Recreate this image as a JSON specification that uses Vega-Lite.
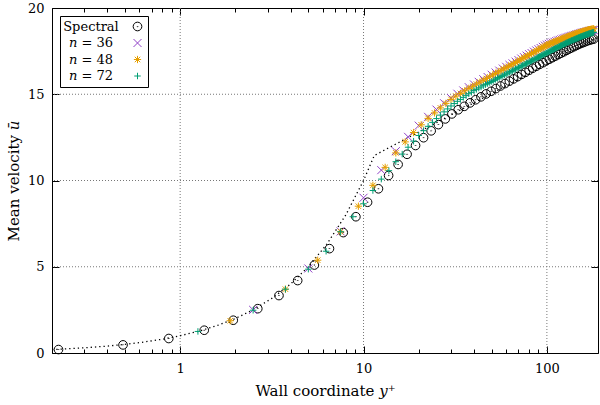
{
 "$schema": "https://vega.github.io/schema/vega-lite/v6.json",
 "width": 546, "height": 345,
 "autosize": {"type": "none"},
 "padding": {"left": 52, "top": 8, "right": 2, "bottom": 52},
 "background": "white",
 "config": {
  "font": "DejaVu Serif",
  "view": {"stroke": "black", "strokeWidth": 1},
  "axis": {"domain": false, "grid": false, "tickColor": "black", "tickWidth": 1, "labelColor": "black", "labelFontSize": 13, "titleFontSize": 15, "titleFontWeight": "normal", "titleColor": "black", "labelFont": "DejaVu Serif", "titleFont": "DejaVu Serif"}
 },
 "datasets": {
  "gx": [{"g":1},{"g":10},{"g":100}],
  "gy": [{"h":5},{"h":10},{"h":15}],
  "law": [{"x":0.2,"u":0.2},{"x":0.25,"u":0.25},{"x":0.3,"u":0.3},{"x":0.4,"u":0.4},{"x":0.5,"u":0.5},{"x":0.6,"u":0.6},{"x":0.8,"u":0.8},{"x":1,"u":1},{"x":1.25,"u":1.25},{"x":1.6,"u":1.6},{"x":2,"u":2},{"x":2.5,"u":2.5},{"x":3.2,"u":3.2},{"x":4,"u":4},{"x":5,"u":5},{"x":6.3,"u":6.3},{"x":8,"u":8},{"x":10,"u":10},{"x":11.45,"u":11.45},{"x":190,"u":18.3}],
  "pts": [
{"s":"a","x":0.217,"u":0.2},{"s":"a","x":0.488,"u":0.47},{"s":"a","x":0.867,"u":0.84},{"s":"a","x":1.353,"u":1.32},{"s":"a","x":1.948,"u":1.9},{"s":"a","x":2.65,"u":2.57},{"s":"a","x":3.458,"u":3.33},{"s":"a","x":4.374,"u":4.2},{"s":"a","x":5.395,"u":5.1},{"s":"a","x":6.52,"u":6.05},{"s":"a","x":7.751,"u":6.98},{"s":"a","x":9.085,"u":7.9},{"s":"a","x":10.52,"u":8.74},{"s":"a","x":12.06,"u":9.52},{"s":"a","x":13.7,"u":10.29},{"s":"a","x":15.44,"u":10.93},{"s":"a","x":17.28,"u":11.52},{"s":"a","x":19.22,"u":12.03},{"s":"a","x":21.25,"u":12.48},{"s":"a","x":23.38,"u":12.88},{"s":"a","x":25.61,"u":13.24},{"s":"a","x":27.93,"u":13.57},{"s":"a","x":30.34,"u":13.86},{"s":"a","x":32.84,"u":14.1},{"s":"a","x":35.42,"u":14.3},{"s":"a","x":38.1,"u":14.5},{"s":"a","x":40.86,"u":14.68},{"s":"a","x":43.7,"u":14.85},{"s":"a","x":46.63,"u":15.02},{"s":"a","x":49.64,"u":15.17},{"s":"a","x":52.72,"u":15.33},{"s":"a","x":55.88,"u":15.48},{"s":"a","x":59.12,"u":15.62},{"s":"a","x":62.43,"u":15.76},{"s":"a","x":65.81,"u":15.89},{"s":"a","x":69.26,"u":16.02},{"s":"a","x":72.77,"u":16.15},{"s":"a","x":76.35,"u":16.27},{"s":"a","x":80,"u":16.39},{"s":"a","x":83.7,"u":16.51},{"s":"a","x":87.46,"u":16.62},{"s":"a","x":91.28,"u":16.73},{"s":"a","x":95.15,"u":16.83},{"s":"a","x":99.07,"u":16.94},{"s":"a","x":103.04,"u":17.03},{"s":"a","x":107.06,"u":17.12},{"s":"a","x":111.12,"u":17.21},{"s":"a","x":115.22,"u":17.3},{"s":"a","x":119.36,"u":17.38},{"s":"a","x":123.54,"u":17.46},{"s":"a","x":127.75,"u":17.54},{"s":"a","x":131.99,"u":17.62},{"s":"a","x":136.26,"u":17.69},{"s":"a","x":140.56,"u":17.76},{"s":"a","x":144.88,"u":17.83},{"s":"a","x":149.23,"u":17.89},{"s":"a","x":153.59,"u":17.95},{"s":"a","x":157.97,"u":18.0},{"s":"a","x":162.36,"u":18.05},{"s":"a","x":166.76,"u":18.1},{"s":"a","x":171.17,"u":18.14},{"s":"a","x":175.58,"u":18.17},{"s":"a","x":180,"u":18.2},
{"s":"b","x":2.5,"u":2.5},{"s":"b","x":5,"u":4.9},{"s":"b","x":7.5,"u":7.05},{"s":"b","x":10,"u":9.0},{"s":"b","x":12.5,"u":10.6},{"s":"b","x":15,"u":11.7},{"s":"b","x":17.5,"u":12.53},{"s":"b","x":20,"u":13.18},{"s":"b","x":22.5,"u":13.69},{"s":"b","x":25,"u":14.11},{"s":"b","x":27.5,"u":14.48},{"s":"b","x":30,"u":14.78},{"s":"b","x":32.5,"u":15.03},{"s":"b","x":35,"u":15.22},{"s":"b","x":37.5,"u":15.41},{"s":"b","x":40,"u":15.57},{"s":"b","x":42.5,"u":15.72},{"s":"b","x":45,"u":15.87},{"s":"b","x":47.5,"u":16.0},{"s":"b","x":50,"u":16.13},{"s":"b","x":52.5,"u":16.26},{"s":"b","x":55,"u":16.37},{"s":"b","x":57.5,"u":16.49},{"s":"b","x":60,"u":16.59},{"s":"b","x":62.5,"u":16.7},{"s":"b","x":65,"u":16.79},{"s":"b","x":67.5,"u":16.89},{"s":"b","x":70,"u":16.98},{"s":"b","x":72.5,"u":17.07},{"s":"b","x":75,"u":17.15},{"s":"b","x":77.5,"u":17.24},{"s":"b","x":80,"u":17.32},{"s":"b","x":82.5,"u":17.39},{"s":"b","x":85,"u":17.47},{"s":"b","x":87.5,"u":17.54},{"s":"b","x":90,"u":17.61},{"s":"b","x":92.5,"u":17.68},{"s":"b","x":95,"u":17.75},{"s":"b","x":97.5,"u":17.82},{"s":"b","x":100,"u":17.88},{"s":"b","x":102.5,"u":17.92},{"s":"b","x":105,"u":17.96},{"s":"b","x":107.5,"u":18.0},{"s":"b","x":110,"u":18.04},{"s":"b","x":112.5,"u":18.08},{"s":"b","x":115,"u":18.12},{"s":"b","x":117.5,"u":18.15},{"s":"b","x":120,"u":18.18},{"s":"b","x":122.5,"u":18.22},{"s":"b","x":125,"u":18.25},{"s":"b","x":127.5,"u":18.28},{"s":"b","x":130,"u":18.31},{"s":"b","x":132.5,"u":18.34},{"s":"b","x":135,"u":18.37},{"s":"b","x":137.5,"u":18.39},{"s":"b","x":140,"u":18.42},{"s":"b","x":142.5,"u":18.44},{"s":"b","x":145,"u":18.47},{"s":"b","x":147.5,"u":18.49},{"s":"b","x":150,"u":18.51},{"s":"b","x":152.5,"u":18.54},{"s":"b","x":155,"u":18.56},{"s":"b","x":157.5,"u":18.58},{"s":"b","x":160,"u":18.6},{"s":"b","x":162.5,"u":18.61},{"s":"b","x":165,"u":18.63},{"s":"b","x":167.5,"u":18.65},{"s":"b","x":170,"u":18.66},{"s":"b","x":172.5,"u":18.68},{"s":"b","x":175,"u":18.69},{"s":"b","x":177.5,"u":18.71},{"s":"b","x":180,"u":18.72},
{"s":"c","x":1.875,"u":1.87},{"s":"c","x":3.75,"u":3.7},{"s":"c","x":5.625,"u":5.38},{"s":"c","x":7.5,"u":7.03},{"s":"c","x":9.375,"u":8.51},{"s":"c","x":11.25,"u":9.72},{"s":"c","x":13.125,"u":10.76},{"s":"c","x":15,"u":11.6},{"s":"c","x":16.875,"u":12.24},{"s":"c","x":18.75,"u":12.78},{"s":"c","x":20.625,"u":13.23},{"s":"c","x":22.5,"u":13.6},{"s":"c","x":24.375,"u":13.92},{"s":"c","x":26.25,"u":14.21},{"s":"c","x":28.125,"u":14.47},{"s":"c","x":30,"u":14.7},{"s":"c","x":31.875,"u":14.89},{"s":"c","x":33.75,"u":15.05},{"s":"c","x":35.625,"u":15.2},{"s":"c","x":37.5,"u":15.34},{"s":"c","x":39.375,"u":15.46},{"s":"c","x":41.25,"u":15.59},{"s":"c","x":43.125,"u":15.7},{"s":"c","x":45,"u":15.81},{"s":"c","x":46.875,"u":15.91},{"s":"c","x":48.75,"u":16.01},{"s":"c","x":50.625,"u":16.11},{"s":"c","x":52.5,"u":16.2},{"s":"c","x":54.375,"u":16.29},{"s":"c","x":56.25,"u":16.38},{"s":"c","x":58.125,"u":16.46},{"s":"c","x":60,"u":16.54},{"s":"c","x":61.875,"u":16.62},{"s":"c","x":63.75,"u":16.7},{"s":"c","x":65.625,"u":16.77},{"s":"c","x":67.5,"u":16.84},{"s":"c","x":69.375,"u":16.91},{"s":"c","x":71.25,"u":16.98},{"s":"c","x":73.125,"u":17.05},{"s":"c","x":75,"u":17.11},{"s":"c","x":76.875,"u":17.18},{"s":"c","x":78.75,"u":17.24},{"s":"c","x":80.625,"u":17.3},{"s":"c","x":82.5,"u":17.36},{"s":"c","x":84.375,"u":17.41},{"s":"c","x":86.25,"u":17.47},{"s":"c","x":88.125,"u":17.52},{"s":"c","x":90,"u":17.58},{"s":"c","x":91.875,"u":17.63},{"s":"c","x":93.75,"u":17.68},{"s":"c","x":95.625,"u":17.73},{"s":"c","x":97.5,"u":17.78},{"s":"c","x":99.375,"u":17.83},{"s":"c","x":101.25,"u":17.87},{"s":"c","x":103.125,"u":17.91},{"s":"c","x":105,"u":17.94},{"s":"c","x":106.875,"u":17.98},{"s":"c","x":108.75,"u":18.01},{"s":"c","x":110.625,"u":18.04},{"s":"c","x":112.5,"u":18.07},{"s":"c","x":114.375,"u":18.1},{"s":"c","x":116.25,"u":18.13},{"s":"c","x":118.125,"u":18.16},{"s":"c","x":120,"u":18.19},{"s":"c","x":121.875,"u":18.22},{"s":"c","x":123.75,"u":18.25},{"s":"c","x":125.625,"u":18.27},{"s":"c","x":127.5,"u":18.3},{"s":"c","x":129.375,"u":18.33},{"s":"c","x":131.25,"u":18.35},{"s":"c","x":133.125,"u":18.37},{"s":"c","x":135,"u":18.4},{"s":"c","x":136.875,"u":18.42},{"s":"c","x":138.75,"u":18.44},{"s":"c","x":140.625,"u":18.46},{"s":"c","x":142.5,"u":18.49},{"s":"c","x":144.375,"u":18.51},{"s":"c","x":146.25,"u":18.53},{"s":"c","x":148.125,"u":18.55},{"s":"c","x":150,"u":18.56},{"s":"c","x":151.875,"u":18.58},{"s":"c","x":153.75,"u":18.6},{"s":"c","x":155.625,"u":18.62},{"s":"c","x":157.5,"u":18.64},{"s":"c","x":159.375,"u":18.65},{"s":"c","x":161.25,"u":18.67},{"s":"c","x":163.125,"u":18.68},{"s":"c","x":165,"u":18.7},{"s":"c","x":166.875,"u":18.71},{"s":"c","x":168.75,"u":18.73},{"s":"c","x":170.625,"u":18.74},{"s":"c","x":172.5,"u":18.75},{"s":"c","x":174.375,"u":18.77},{"s":"c","x":176.25,"u":18.78},{"s":"c","x":178.125,"u":18.79},{"s":"c","x":180,"u":18.8},
{"s":"d","x":1.25,"u":1.25},{"s":"d","x":2.5,"u":2.48},{"s":"d","x":3.75,"u":3.7},{"s":"d","x":5,"u":4.86},{"s":"d","x":6.25,"u":5.9},{"s":"d","x":7.5,"u":7.03},{"s":"d","x":8.75,"u":7.9},{"s":"d","x":10,"u":8.65},{"s":"d","x":11.25,"u":9.42},{"s":"d","x":12.5,"u":10.08},{"s":"d","x":13.75,"u":10.57},{"s":"d","x":15,"u":11.09},{"s":"d","x":16.25,"u":11.53},{"s":"d","x":17.5,"u":11.93},{"s":"d","x":18.75,"u":12.28},{"s":"d","x":20,"u":12.61},{"s":"d","x":21.25,"u":12.89},{"s":"d","x":22.5,"u":13.14},{"s":"d","x":23.75,"u":13.37},{"s":"d","x":25,"u":13.59},{"s":"d","x":26.25,"u":13.79},{"s":"d","x":27.5,"u":13.98},{"s":"d","x":28.75,"u":14.15},{"s":"d","x":30,"u":14.32},{"s":"d","x":31.25,"u":14.46},{"s":"d","x":32.5,"u":14.59},{"s":"d","x":33.75,"u":14.7},{"s":"d","x":35,"u":14.82},{"s":"d","x":36.25,"u":14.92},{"s":"d","x":37.5,"u":15.03},{"s":"d","x":38.75,"u":15.11},{"s":"d","x":40,"u":15.21},{"s":"d","x":41.25,"u":15.28},{"s":"d","x":42.5,"u":15.36},{"s":"d","x":43.75,"u":15.42},{"s":"d","x":45,"u":15.49},{"s":"d","x":46.25,"u":15.56},{"s":"d","x":47.5,"u":15.62},{"s":"d","x":48.75,"u":15.68},{"s":"d","x":50,"u":15.74},{"s":"d","x":51.25,"u":15.8},{"s":"d","x":52.5,"u":15.86},{"s":"d","x":53.75,"u":15.92},{"s":"d","x":55,"u":15.97},{"s":"d","x":56.25,"u":16.03},{"s":"d","x":57.5,"u":16.08},{"s":"d","x":58.75,"u":16.13},{"s":"d","x":60,"u":16.18},{"s":"d","x":61.25,"u":16.23},{"s":"d","x":62.5,"u":16.28},{"s":"d","x":63.75,"u":16.32},{"s":"d","x":65,"u":16.37},{"s":"d","x":66.25,"u":16.42},{"s":"d","x":67.5,"u":16.46},{"s":"d","x":68.75,"u":16.5},{"s":"d","x":70,"u":16.55},{"s":"d","x":71.25,"u":16.59},{"s":"d","x":72.5,"u":16.63},{"s":"d","x":73.75,"u":16.67},{"s":"d","x":75,"u":16.71},{"s":"d","x":76.25,"u":16.75},{"s":"d","x":77.5,"u":16.79},{"s":"d","x":78.75,"u":16.83},{"s":"d","x":80,"u":16.87},{"s":"d","x":81.25,"u":16.9},{"s":"d","x":82.5,"u":16.94},{"s":"d","x":83.75,"u":16.98},{"s":"d","x":85,"u":17.01},{"s":"d","x":86.25,"u":17.05},{"s":"d","x":87.5,"u":17.08},{"s":"d","x":88.75,"u":17.12},{"s":"d","x":90,"u":17.15},{"s":"d","x":91.25,"u":17.18},{"s":"d","x":92.5,"u":17.21},{"s":"d","x":93.75,"u":17.25},{"s":"d","x":95,"u":17.28},{"s":"d","x":96.25,"u":17.31},{"s":"d","x":97.5,"u":17.34},{"s":"d","x":98.75,"u":17.37},{"s":"d","x":100,"u":17.4},{"s":"d","x":101.25,"u":17.43},{"s":"d","x":102.5,"u":17.46},{"s":"d","x":103.75,"u":17.49},{"s":"d","x":105,"u":17.52},{"s":"d","x":106.25,"u":17.55},{"s":"d","x":107.5,"u":17.58},{"s":"d","x":108.75,"u":17.6},{"s":"d","x":110,"u":17.63},{"s":"d","x":111.25,"u":17.66},{"s":"d","x":112.5,"u":17.68},{"s":"d","x":113.75,"u":17.71},{"s":"d","x":115,"u":17.73},{"s":"d","x":116.25,"u":17.76},{"s":"d","x":117.5,"u":17.78},{"s":"d","x":118.75,"u":17.81},{"s":"d","x":120,"u":17.83},{"s":"d","x":121.25,"u":17.85},{"s":"d","x":122.5,"u":17.88},{"s":"d","x":123.75,"u":17.9},{"s":"d","x":125,"u":17.92},{"s":"d","x":126.25,"u":17.94},{"s":"d","x":127.5,"u":17.97},{"s":"d","x":128.75,"u":17.99},{"s":"d","x":130,"u":18.01},{"s":"d","x":131.25,"u":18.03},{"s":"d","x":132.5,"u":18.05},{"s":"d","x":133.75,"u":18.07},{"s":"d","x":135,"u":18.09},{"s":"d","x":136.25,"u":18.11},{"s":"d","x":137.5,"u":18.13},{"s":"d","x":138.75,"u":18.14},{"s":"d","x":140,"u":18.16},{"s":"d","x":141.25,"u":18.18},{"s":"d","x":142.5,"u":18.2},{"s":"d","x":143.75,"u":18.21},{"s":"d","x":145,"u":18.23},{"s":"d","x":146.25,"u":18.25},{"s":"d","x":147.5,"u":18.26},{"s":"d","x":148.75,"u":18.28},{"s":"d","x":150,"u":18.3},{"s":"d","x":151.25,"u":18.31},{"s":"d","x":152.5,"u":18.33},{"s":"d","x":153.75,"u":18.34},{"s":"d","x":155,"u":18.36},{"s":"d","x":156.25,"u":18.37},{"s":"d","x":157.5,"u":18.38},{"s":"d","x":158.75,"u":18.4},{"s":"d","x":160,"u":18.41},{"s":"d","x":161.25,"u":18.42},{"s":"d","x":162.5,"u":18.44},{"s":"d","x":163.75,"u":18.45},{"s":"d","x":165,"u":18.46},{"s":"d","x":166.25,"u":18.47},{"s":"d","x":167.5,"u":18.49},{"s":"d","x":168.75,"u":18.5},{"s":"d","x":170,"u":18.51},{"s":"d","x":171.25,"u":18.52},{"s":"d","x":172.5,"u":18.53},{"s":"d","x":173.75,"u":18.54},{"s":"d","x":175,"u":18.55},{"s":"d","x":176.25,"u":18.56},{"s":"d","x":177.5,"u":18.57},{"s":"d","x":178.75,"u":18.58},{"s":"d","x":180,"u":18.59}
  ]
 },
 "layer": [
  {
   "data": {"name": "gx"},
   "mark": {"type": "rule", "color": "#777777", "strokeWidth": 1, "strokeDash": [1, 2]},
   "encoding": {
    "x": {"field": "g", "type": "quantitative", "scale": {"type": "log", "domain": [0.2, 190], "nice": false},
     "axis": {"orient": "bottom", "values": [1, 10, 100], "format": "d", "tickSize": -7, "labelPadding": 16, "labelFlush": false,
      "labelFont": "DejaVu Serif", "titleFont": "DejaVu Serif", "title": "Wall coordinate 𝑦⁺", "titlePadding": 8}}
   }
  },
  {
   "data": {"name": "gy"},
   "mark": {"type": "rule", "color": "#777777", "strokeWidth": 1, "strokeDash": [1, 2]},
   "encoding": {
    "y": {"field": "h", "type": "quantitative", "scale": {"domain": [0, 20], "nice": false},
     "axis": {"orient": "left", "values": [0, 5, 10, 15, 20], "tickSize": -7, "labelPadding": 15, "labelFlush": false,
      "labelFont": "DejaVu Serif", "titleFont": "DejaVu Serif", "title": "Mean velocity 𝑢̄", "titlePadding": 6}}
   }
  },
  {
   "data": {"name": "law"},
   "mark": {"type": "line", "color": "black", "strokeWidth": 1.3, "strokeDash": [1.3, 3]},
   "encoding": {
    "x": {"field": "x", "type": "quantitative", "scale": {"type": "log", "domain": [0.2, 190], "nice": false},
     "axis": {"orient": "top", "values": [1, 10, 100], "tickSize": -7, "labels": false, "title": null}},
    "y": {"field": "u", "type": "quantitative", "scale": {"domain": [0, 20], "nice": false},
     "axis": {"orient": "right", "values": [0, 5, 10, 15, 20], "tickSize": -7, "labels": false, "title": null}}
   }
  },
  {
   "data": {"name": "pts"},
   "mark": {"type": "point", "filled": false, "strokeWidth": 1, "opacity": 1},
   "encoding": {
    "x": {"field": "x", "type": "quantitative", "scale": {"type": "log", "domain": [0.2, 190], "nice": false},
     "axis": {"orient": "bottom", "values": [0.2,0.3,0.4,0.5,0.6,0.7,0.8,0.9,2,3,4,5,6,7,8,9,20,30,40,50,60,70,80,90], "tickSize": -4, "labels": false, "title": null}},
    "y": {"field": "u", "type": "quantitative", "scale": {"domain": [0, 20], "nice": false}, "axis": null},
    "color": {"field": "s", "type": "nominal",
     "scale": {"domain": ["a", "b", "c", "d"], "range": ["black", "#9040c8", "#e69f00", "#009e73"]},
     "legend": {"orient": "top-left", "offset": 8, "title": null, "strokeColor": "black", "fillColor": "white", "padding": 4,
      "labelFont": "DejaVu Serif", "labelFontSize": 13, "labelColor": "black", "symbolSize": 55, "symbolStrokeWidth": 1, "rowPadding": 2.5,
      "symbolOffset": 67, "labelOffset": -53, "labelAlign": "center",
      "labelExpr": "datum.value=='a' ? 'Spectral' : datum.value=='b' ? '𝑛 = 36' : datum.value=='c' ? '𝑛 = 48' : '𝑛 = 72'"}},
    "shape": {"field": "s", "type": "nominal",
     "scale": {"domain": ["a", "b", "c", "d"], "range": [
      "M-1,0A1,1 0 1,0 1,0A1,1 0 1,0 -1,0ZM-0.08,0A0.08,0.08 0 1,0 0.08,0A0.08,0.08 0 1,0 -0.08,0Z",
      "M-1,-1L1,1M-1,1L1,-1",
      "M-1,0L1,0M0,-1L0,1M-0.75,-0.75L0.75,0.75M-0.75,0.75L0.75,-0.75",
      "M-1,0L1,0M0,-1L0,1"]}},
    "size": {"field": "s", "type": "nominal", "scale": {"domain": ["a", "b", "c", "d"], "range": [75, 42, 40, 60]}, "legend": null}
   }
  },
  {
   "data": {"name": "gx"},
   "mark": {"type": "rule", "opacity": 0},
   "encoding": {
    "x": {"field": "g", "type": "quantitative", "scale": {"type": "log", "domain": [0.2, 190], "nice": false},
     "axis": {"orient": "top", "values": [0.2,0.3,0.4,0.5,0.6,0.7,0.8,0.9,2,3,4,5,6,7,8,9,20,30,40,50,60,70,80,90], "tickSize": -4, "labels": false, "title": null}}
   }
  }
 ],
 "resolve": {"axis": {"x": "independent", "y": "independent"}}
}
